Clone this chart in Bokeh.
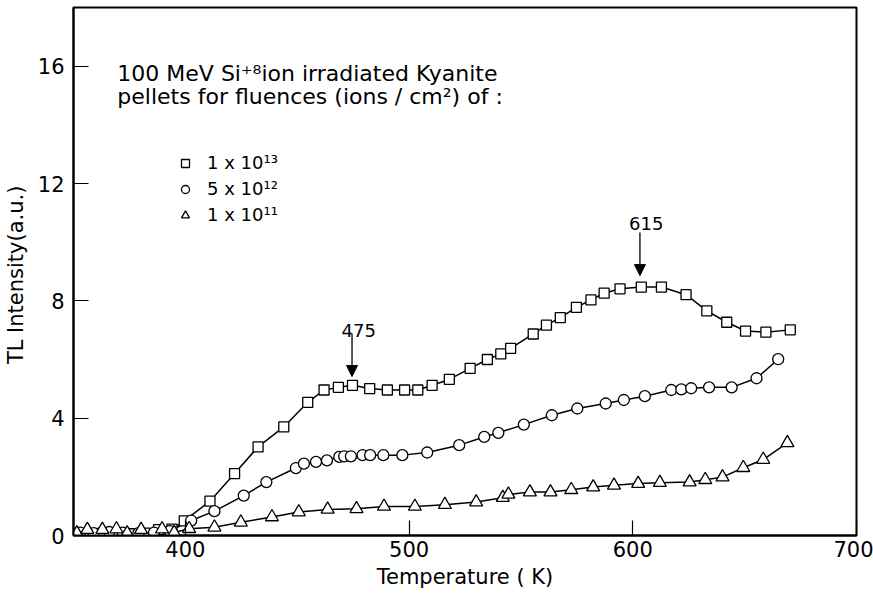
from bokeh.plotting import figure
from bokeh.models import Range1d, Label, Arrow, NormalHead, Legend, LegendItem, FixedTicker
from bokeh.embed import file_html
from bokeh.resources import INLINE

# ---------------- data ----------------
sq_x = [352, 357, 363, 369, 375, 382, 388, 394, 399.5, 411, 422, 432.5, 444, 454.7, 462, 468.4,
        474.7, 482.4, 490.3, 498, 503.9, 510.3, 518, 527.3, 535, 541, 545.4, 555.5, 561.4, 567.6,
        574.8, 581.3, 587.2, 594.3, 603.8, 612.8, 623.8, 633.1, 642, 650.4, 659.5, 670.4]
sq_y = [0.05, 0.05, 0.08, 0.05, 0.06, 0.08, 0.2, 0.22, 0.5, 1.17, 2.11, 3.02, 3.70, 4.54, 4.96, 5.05,
        5.12, 5.01, 4.96, 4.96, 4.96, 5.12, 5.32, 5.70, 6.0, 6.19, 6.38, 6.87, 7.17, 7.43,
        7.78, 8.03, 8.26, 8.41, 8.47, 8.47, 8.21, 7.66, 7.27, 6.97, 6.93, 7.01]

ci_x = [353, 359, 366, 372, 379, 386, 393, 402.6, 413, 426.1, 436.2, 449.4, 453, 458.4, 463.3,
        468.8, 471, 474, 479.2, 482.6, 488.5, 497, 508.1, 522.4, 533.6, 539.9, 551.3, 563.8, 575.2,
        587.9, 596, 605.4, 617.2, 621.7, 626.1, 634.1, 644.2, 655.3, 665]
ci_y = [0.1, 0.08, 0.12, 0.1, 0.08, 0.1, 0.15, 0.51, 0.83, 1.36, 1.82, 2.30, 2.45, 2.51, 2.56,
        2.68, 2.70, 2.70, 2.74, 2.74, 2.74, 2.74, 2.83, 3.08, 3.36, 3.50, 3.78, 4.10, 4.33,
        4.50, 4.62, 4.75, 4.96, 4.98, 5.02, 5.05, 5.05, 5.36, 6.01]

tr_x = [351.5, 356.2, 362.9, 369.2, 374, 380.2, 389.6, 395, 401.7, 413, 424.8, 438.7, 450.7, 463.6,
        476.5, 488.8, 502.6, 516, 530, 541.9, 544.4, 554, 563.2, 572.5, 582.3, 591.6, 602.4, 612.1,
        625.4, 632.4, 640.1, 649.4, 658.3, 669.1]
tr_y = [0.08, 0.2, 0.2, 0.22, 0.08, 0.2, 0.22, 0.1, 0.23, 0.28, 0.45, 0.63, 0.80, 0.89,
        0.91, 0.99, 0.99, 1.05, 1.14, 1.29, 1.40, 1.48, 1.48, 1.56, 1.65, 1.71, 1.77, 1.80,
        1.82, 1.90, 1.99, 2.31, 2.59, 3.16]

series_labels = ["1 x 10\u00b9\u00b3", "5 x 10\u00b9\u00b2", "1 x 10\u00b9\u00b9"]
x_ticks = [400, 500, 600, 700]
y_ticks = [0, 4, 8, 12, 16]

peak_labels = ["475", "615"]
peak_x = [474.5, 603.2]
peak_text_x = [477.5, 606.0]
peak_text_y = [7.0, 10.62]
peak_arrow_top = [6.88, 10.33]
peak_arrow_tip = [5.42, 8.86]

title_lines = ["100 MeV Si\u207a\u2078ion irradiated  Kyanite",
               "pellets for fluences (ions / cm\u00b2) of :"]

FONT = "DejaVu Sans"

p = figure(width=873, height=593, output_backend="svg", toolbar_location=None,
           x_range=Range1d(350, 700), y_range=Range1d(0, 18),
           min_border_left=71, min_border_right=17, min_border_top=7, min_border_bottom=58)
p.background_fill_color = "white"
p.border_fill_color = "white"
p.outline_line_color = "black"
p.outline_line_width = 2
p.grid.visible = False

for ax in (p.xaxis[0], p.yaxis[0]):
    ax.axis_line_color = "black"
    ax.axis_line_width = 2
    ax.major_tick_in = 15
    ax.major_tick_out = 0
    ax.major_tick_line_width = 1.2
    ax.minor_tick_line_color = None
    ax.major_label_text_font = FONT
    ax.major_label_text_font_size = "21px"
    ax.major_label_text_color = "black"
    ax.axis_label_text_font = FONT
    ax.axis_label_text_font_style = "normal"
    ax.axis_label_text_font_size = "21px"
    ax.axis_label_text_color = "black"

p.xaxis.ticker = FixedTicker(ticks=x_ticks)
p.yaxis.ticker = FixedTicker(ticks=y_ticks)
p.xaxis.axis_label = "Temperature ( K)"
p.yaxis.axis_label = "TL  Intensity(a.u.)"
p.xaxis.major_label_standoff = 5
p.yaxis.major_label_standoff = 9
p.xaxis.axis_label_standoff = 5
p.yaxis.axis_label_standoff = 7

# series
p.line(sq_x, sq_y, line_color="black", line_width=1.5)
p.line(ci_x, ci_y, line_color="black", line_width=1.5)
p.line(tr_x, tr_y, line_color="black", line_width=1.5)
r_sq = p.scatter(sq_x, sq_y, marker="square", size=10, fill_color="white", line_color="black", line_width=1.3)
r_ci = p.scatter(ci_x, ci_y, marker="circle", size=11, fill_color="white", line_color="black", line_width=1.3)
r_tr = p.scatter(tr_x, tr_y, marker="triangle", size=13, fill_color="white", line_color="black", line_width=1.3)

legend = Legend(items=[LegendItem(label=series_labels[0], renderers=[r_sq]),
                       LegendItem(label=series_labels[1], renderers=[r_ci]),
                       LegendItem(label=series_labels[2], renderers=[r_tr])],
                location=(102, 310), border_line_color=None, background_fill_alpha=0,
                padding=0, margin=0, spacing=5, glyph_width=20, glyph_height=20,
                label_height=20, label_standoff=12,
                label_text_font=FONT, label_text_font_size="18px", label_text_color="black")
p.add_layout(legend, "center")

# header text
p.add_layout(Label(x=369.6, y=15.75, text=title_lines[0], text_font=FONT, text_font_size="22px",
                   text_color="black", text_baseline="alphabetic"))
p.add_layout(Label(x=369.6, y=14.96, text=title_lines[1], text_font=FONT, text_font_size="22px",
                   text_color="black", text_baseline="alphabetic"))

# peak annotations
for lab, px, tx, ty, y0, y1 in zip(peak_labels, peak_x, peak_text_x, peak_text_y, peak_arrow_top, peak_arrow_tip):
    p.add_layout(Label(x=tx, y=ty, text=lab, text_font=FONT, text_font_size="18px", text_color="black",
                       text_align="center", text_baseline="middle"))
    p.add_layout(Arrow(x_start=px, y_start=y0, x_end=px, y_end=y1, line_color="black", line_width=1.3,
                       end=NormalHead(size=11, fill_color="black", line_color="black")))

open("out.html", "w").write(file_html(p, INLINE))
